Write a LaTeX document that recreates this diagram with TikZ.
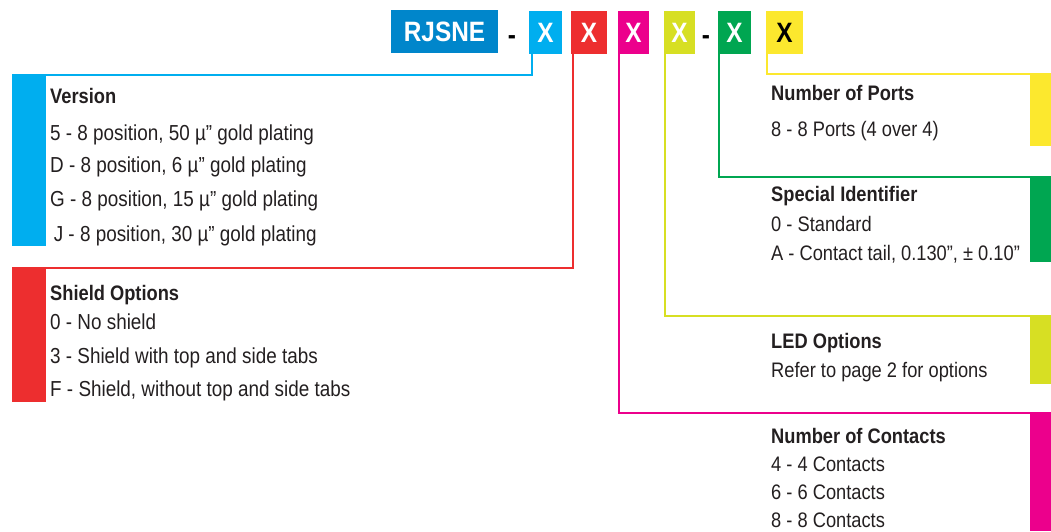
\documentclass[tikz,border=0pt]{standalone}
\usepackage{fontspec}
\setmainfont{Liberation Sans}[FakeStretch=0.87]
\usepackage{xcolor}
\usepackage{tikz}
\usetikzlibrary{positioning}

\definecolor{rjblue}{RGB}{0,134,203}
\definecolor{cyanX}{RGB}{0,174,239}
\definecolor{redX}{RGB}{237,46,47}
\definecolor{magX}{RGB}{236,0,140}
\definecolor{limeX}{RGB}{215,223,35}
\definecolor{greenX}{RGB}{0,166,81}
\definecolor{yelX}{RGB}{252,232,46}
\definecolor{ink}{RGB}{35,31,32}

\begin{document}
\begin{tikzpicture}[
  x=1pt, y=-1pt,
  tag/.style    = {font=\bfseries\fontsize{28}{30}\selectfont, text=white,
                   minimum height=43pt, inner sep=0pt,
                   text height=20pt, text depth=0pt},
  hyphen/.style = {font=\bfseries\fontsize{28}{30}\selectfont, text=black,
                   anchor=base, inner sep=0pt},
  bar/.style    = {inner sep=0pt, outer sep=0pt},
  wire/.style   = {line width=2pt},
  head/.style   = {font=\bfseries\fontsize{21}{24}\selectfont, text=ink,
                   anchor=base west, inner sep=0pt},
  item/.style   = {font=\fontsize{21}{24}\selectfont, text=ink,
                   anchor=base west, inner sep=0pt},
  litem/.style  = {item, font=\fontsize{21.7}{24}\selectfont},
]
\useasboundingbox (0,0) rectangle (1051,531);

% Column x-positions of the text
\def\xL{50}    % left blocks
\def\xR{771}   % right blocks

% ── PART NUMBER ─────────────────────────────────────────────────────────────
\node[tag, fill=rjblue, minimum width=107pt] at (444.5,31.5) (base) {RJSNE};
\node[hyphen] at (512,44) (d1) {-};
\node[tag, fill=cyanX,  minimum width=33pt] at (545.5,32.5) (x1) {X};
\node[tag, fill=redX,   minimum width=36pt] at (589,32.5)   (x2) {X};
\node[tag, fill=magX,   minimum width=31pt] at (633.5,32.5) (x3) {X};
\node[tag, fill=limeX,  minimum width=31pt] at (679.5,32.5) (x4) {X};
\node[hyphen] at (706,44) (d2) {-};
\node[tag, fill=greenX, minimum width=33pt] at (734.5,32.5) (x5) {X};
\node[tag, fill=yelX, text=black, minimum width=37pt] at (784.5,32.5) (x6) {X};

% ── VERSION ─────────────────────────────────────────────────────────────────
\node[bar, fill=cyanX, anchor=north west, minimum width=34pt,
      minimum height=172pt] at (12,74) (verbar) {};
\draw[wire, cyanX] ([xshift=3pt]x1.south west) |- ([yshift=-1pt]verbar.north west);

\node[head]  at (\xL,103)   (ver)  {Version};
\node[litem] at (\xL,140.7) (ver5) {5 - 8 position, 50 µ” gold plating};
\node[litem] at (\xL,172.7) (verD) {D - 8 position, 6 µ” gold plating};
\node[litem] at (\xL,206)   (verG) {G - 8 position, 15 µ” gold plating};
\node[litem] at (\xL,241.7) (verJ) {\,J - 8 position, 30 µ” gold plating};

% ── SHIELD OPTIONS ──────────────────────────────────────────────────────────
\node[bar, fill=redX, anchor=north west, minimum width=34pt,
      minimum height=135pt] at (12,267) (shbar) {};
\draw[wire, redX] ([xshift=2pt]x2.south west) |- ([yshift=-1pt]shbar.north west);

\node[head]  at (\xL,300.7) (sh)  {Shield Options};
\node[litem] at (\xL,329)   (sh0) {0 - No shield};
\node[litem] at (\xL,363.3) (sh3) {3 - Shield with top and side tabs};
\node[litem] at (\xL,396.7) (shF) {F - Shield, without top and side tabs};

% ── NUMBER OF PORTS ─────────────────────────────────────────────────────────
\node[bar, fill=yelX, anchor=north east, minimum width=21pt,
      minimum height=73pt] at (1051,73) (portbar) {};
\draw[wire, yelX] ([xshift=1pt]x6.south west) |- ([yshift=-1pt]portbar.north east);

\node[head] at (\xR,100) (port)  {Number of Ports};
\node[item] at (\xR,136) (port8) {8 - 8 Ports (4 over 4)};

% ── SPECIAL IDENTIFIER ──────────────────────────────────────────────────────
\node[bar, fill=greenX, anchor=north east, minimum width=21pt,
      minimum height=86pt] at (1051,176) (idbar) {};
\draw[wire, greenX] ([xshift=1pt]x5.south west) |- ([yshift=-1pt]idbar.north east);

\node[head] at (\xR,201.7) (id)  {Special Identifier};
\node[item] at (\xR,231.7) (id0) {0 - Standard};
\node[item] at (\xR,260.7) (idA) {A - Contact tail, 0.130”, ± 0.10”};

% ── LED OPTIONS ─────────────────────────────────────────────────────────────
\node[bar, fill=limeX, anchor=north east, minimum width=21pt,
      minimum height=69pt] at (1051,315) (ledbar) {};
\draw[wire, limeX] ([xshift=1pt]x4.south west) |- ([yshift=-1pt]ledbar.north east);

\node[head] at (\xR,348.3) (led)    {LED Options};
\node[item] at (\xR,377.3) (ledref) {Refer to page 2 for options};

% ── NUMBER OF CONTACTS ──────────────────────────────────────────────────────
\node[bar, fill=magX, anchor=north east, minimum width=21pt,
      minimum height=119pt] at (1051,412) (conbar) {};
\draw[wire, magX] ([xshift=1pt]x3.south west) |- ([yshift=-1pt]conbar.north east);

\node[head] at (\xR,443.3) (con)  {Number of Contacts};
\node[item] at (\xR,471)   (con4) {4 - 4 Contacts};
\node[item] at (\xR,499)   (con6) {6 - 6 Contacts};
\node[item] at (\xR,527.3) (con8) {8 - 8 Contacts};

\end{tikzpicture}
\end{document}
